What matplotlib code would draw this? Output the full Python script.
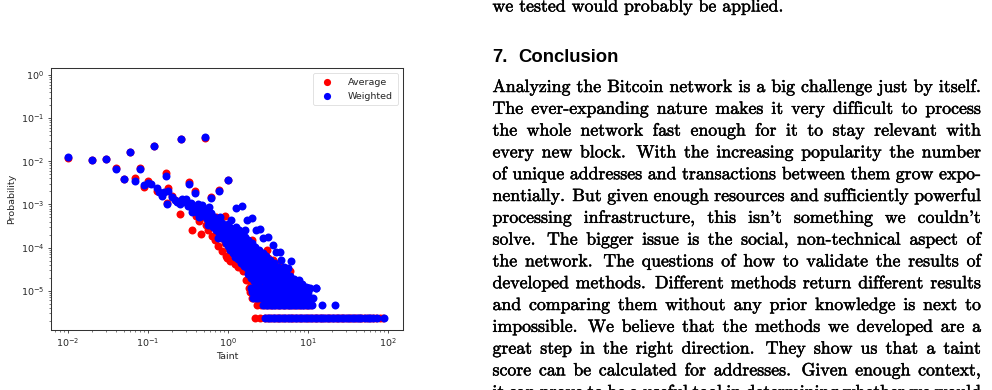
import matplotlib
matplotlib.use('Agg')
import matplotlib.pyplot as plt
import matplotlib.patheffects as pe
from matplotlib.font_manager import FontProperties

# ---------------- chart data ----------------
# Weighted (blue) individual points
wtd_taint = [0.01, 0.02, 0.03, 0.04, 0.05, 0.06, 0.07, 0.08, 0.09, 0.10, 0.11, 0.12, 0.13,
             0.15, 0.17, 0.175, 0.18, 0.20, 0.23, 0.26, 0.27, 0.29, 0.32, 0.33, 0.35, 0.39,
             0.43, 0.47, 0.52, 0.55, 0.59, 0.62, 0.78, 1.0,
             1.26, 1.52, 1.1, 1.74, 2.03, 1.64, 2.25, 2.52, 2.78, 3.2, 3.7, 3.96, 4.47, 4.6,
             6.25, 5.1, 5.7, 7.7, 10.1, 12.8,
             0.30, 0.32, 0.35, 0.38, 0.40, 0.42, 0.45, 0.47, 0.50, 0.52, 0.55, 0.55,
             0.58, 0.60, 0.62, 0.65, 0.66, 0.68, 0.70, 0.72, 0.74, 0.76, 0.78, 0.80, 0.82, 0.84, 0.86, 0.88,
             0.90, 0.92, 0.94, 0.96, 0.98, 1.0, 1.0, 1.02, 1.05, 1.07, 1.08, 1.1, 1.12, 1.14, 1.16, 1.18, 1.2,
             1.22, 1.24, 1.26, 1.28, 1.3, 1.32, 1.35, 1.38, 1.4, 1.42, 1.45, 1.48, 1.5, 1.52, 1.55, 1.58, 1.6,
             1.63, 1.66, 1.7, 1.72, 1.75, 1.78, 1.8, 1.83, 1.86, 1.9, 1.93, 1.96, 2.0, 2.03, 2.06, 2.1, 2.13, 2.16,
             2.22, 2.25, 2.3, 2.33, 2.36, 2.4, 2.46, 2.5, 2.55, 2.6, 2.63, 2.75, 2.8, 2.85, 2.9, 2.95,
             3.05, 3.1, 3.15, 3.2, 3.25, 3.4, 3.5, 3.55, 3.6, 3.8, 3.9, 4.0, 4.1, 4.3, 4.4, 4.5,
             4.8, 4.9, 5.0, 5.3, 5.5, 5.7, 6.0, 6.3, 6.8, 7.0, 7.6, 8.0, 8.5, 9.5,
             0.36, 0.41, 0.44, 0.48, 0.53, 0.57, 0.63, 0.69, 0.75, 0.83, 0.91, 0.99, 1.13, 1.33, 1.46,
             0.22, 0.25, 0.16, 0.14]
wtd_prob = [1.28e-2, 1.07e-2, 1.11e-2, 6.5e-3, 3.8e-3, 1.64e-2, 3.5e-3, 6.5e-3, 2.8e-3, 3.2e-3, 3.0e-3, 2.3e-2, 2.4e-3,
            1.6e-3, 4.6e-3, 1.05e-3, 2.1e-3, 1.5e-3, 1.16e-3, 3.2e-2, 1.3e-3, 1.15e-3, 1.0e-3, 2.9e-3, 8.9e-4, 1.8e-3,
            7.5e-4, 6.3e-4, 3.6e-2, 5.2e-4, 8.5e-4, 1.4e-3, 2.0e-3, 3.7e-3,
            8.1e-4, 9.3e-4, 4.3e-4, 4.4e-4, 4.8e-4, 2.6e-4, 2.6e-4, 2.7e-4, 1.65e-4, 1.74e-4, 1.15e-4, 8.1e-5, 8.1e-5, 5.2e-5,
            4.9e-5, 3.6e-5, 3.3e-5, 1.8e-5, 1.15e-5, 1.15e-5,
            1.3e-3, 9.0e-4, 1.1e-3, 8.0e-4, 6.5e-4, 1.0e-3, 7.0e-4, 5.5e-4, 8.0e-4, 6.0e-4, 4.5e-4, 7.0e-4,
            5.5e-4, 3.8e-4, 6.2e-4, 4.5e-4, 3.0e-4, 5.2e-4, 3.6e-4, 2.6e-4, 4.5e-4, 3.2e-4, 2.2e-4, 5.0e-4, 2.8e-4, 1.9e-4, 3.8e-4, 2.4e-4,
            1.6e-4, 3.2e-4, 2.1e-4, 1.3e-4, 2.7e-4, 1.8e-4, 1.1e-4, 3.5e-4, 2.3e-4, 1.5e-4, 9.0e-5, 2.9e-4, 1.9e-4, 1.2e-4, 7.5e-5, 2.4e-4, 1.55e-4,
            1.0e-4, 6.2e-5, 3.0e-4, 2.0e-4, 1.3e-4, 8.5e-5, 5.3e-5, 2.5e-4, 1.65e-4, 1.1e-4, 7.0e-5, 4.5e-5, 2.1e-4, 1.4e-4, 9.2e-5, 6.0e-5, 3.8e-5,
            1.8e-4, 1.2e-4, 8.0e-5, 5.2e-5, 3.3e-5, 2.4e-5, 1.5e-4, 1.0e-4, 6.8e-5, 4.5e-5, 2.9e-5, 2.0e-5, 1.3e-4, 8.8e-5, 5.8e-5, 3.9e-5, 2.6e-5, 1.7e-5,
            1.05e-4, 7.2e-5, 4.8e-5, 3.2e-5, 2.2e-5, 1.5e-5, 8.8e-5, 6.0e-5, 4.0e-5, 2.7e-5, 1.85e-5, 7.5e-5, 5.0e-5, 3.3e-5, 2.3e-5, 1.6e-5,
            6.3e-5, 4.2e-5, 2.8e-5, 2.0e-5, 1.4e-5, 5.2e-5, 3.5e-5, 2.4e-5, 1.7e-5, 4.3e-5, 2.9e-5, 2.0e-5, 1.4e-5, 3.6e-5, 2.5e-5, 1.75e-5,
            3.0e-5, 2.1e-5, 1.5e-5, 2.6e-5, 1.8e-5, 1.3e-5, 2.2e-5, 1.6e-5, 1.9e-5, 1.35e-5, 1.6e-5, 1.4e-5, 1.4e-5, 1.2e-5,
            6.8e-4, 8.8e-4, 5.2e-4, 9.5e-4, 7.4e-4, 3.4e-4, 4.0e-4, 2.9e-4, 1.7e-4, 3.4e-4, 2.6e-4, 1.4e-4, 1.0e-4, 6.5e-5, 5.6e-5,
            1.25e-3, 1.05e-3, 1.9e-3, 1.9e-3]

# Average (red) individual points
avg_taint = [0.01, 0.02, 0.03, 0.04, 0.05, 0.06, 0.07, 0.08, 0.09, 0.10, 0.12, 0.13, 0.15, 0.17, 0.175, 0.18,
             0.20, 0.23, 0.25, 0.26, 0.29, 0.33, 0.39, 0.43, 0.52, 0.62, 0.78, 1.0,
             0.36, 0.40, 0.44, 0.47, 0.50, 0.53, 0.57, 0.60, 0.63, 0.66, 0.70, 0.71, 0.73, 0.76, 0.78, 0.82, 0.85,
             0.88, 0.93, 0.92, 0.95, 0.97, 1.0, 1.04, 1.08, 1.12, 1.16, 1.2, 1.22, 1.26, 1.3, 1.35, 1.4, 1.42,
             1.45, 1.5, 1.55, 1.6, 1.65, 1.7, 1.72, 1.8, 1.85, 1.9, 1.95, 2.0, 2.05, 2.1, 2.3, 2.35, 2.45,
             2.6, 2.7, 3.1, 3.0, 3.2, 3.5, 3.7, 3.5, 4.2, 4.5, 5.0, 6.0, 6.2, 8.5, 3.2, 4.4]
avg_prob = [1.22e-2, 1.05e-2, 1.1e-2, 6.8e-3, 3.9e-3, 1.62e-2, 4.0e-3, 7.1e-3, 2.5e-3, 3.5e-3, 2.25e-2, 2.1e-3, 1.7e-3, 5.3e-3, 1.1e-3, 2.4e-3,
            1.6e-3, 1.2e-3, 6.0e-4, 3.3e-2, 1.2e-3, 3.3e-3, 2.1e-3, 8.0e-4, 3.5e-2, 1.5e-3, 2.2e-3, 3.6e-3,
            2.6e-4, 5.5e-4, 4.2e-4, 2.1e-4, 5.0e-4, 3.4e-4, 2.5e-4, 4.2e-4, 1.9e-4, 3.2e-4, 1.5e-4, 5.0e-4, 2.4e-4, 1.1e-4, 3.6e-4, 1.7e-4, 8.5e-5,
            2.6e-4, 5.4e-4, 1.25e-4, 6.5e-5, 5.7e-5, 2.0e-4, 9.5e-5, 5.0e-5, 1.5e-4, 7.2e-5, 2.6e-4, 4.2e-5, 1.1e-4, 5.5e-5, 3.5e-5, 2.3e-4, 3.6e-5,
            8.0e-5, 4.2e-5, 2.8e-5, 1.2e-4, 5.8e-5, 1.8e-5, 3.0e-5, 9.0e-5, 4.4e-5, 2.3e-5, 1.4e-5, 1.5e-4, 3.3e-5, 1.8e-5, 5.0e-5, 2.6e-5, 1.4e-5,
            3.6e-5, 2.0e-5, 8.7e-5, 2.8e-5, 1.6e-5, 4.3e-5, 5.2e-5, 2.1e-5, 2.5e-5, 1.6e-5, 2.1e-5, 2.8e-5, 1.4e-5, 1.3e-5, 5.6e-5, 4.5e-5]

# Low-count rows (probability of 1..5 addresses)
row_prob = [2.3e-6, 4.6e-6, 6.9e-6, 9.2e-6, 1.15e-5]
wtd_row_taint = [
    [2.95, 3.15, 3.4, 3.65, 3.9, 4.2, 4.5, 4.85, 5.2, 5.6, 6.0, 6.45, 6.9, 7.4, 8.0, 8.6, 9.2, 9.9, 10.6, 11.4,
     12.2, 13.1, 14.1, 15.1, 16.2, 17.4, 18.7, 20.1, 21.6, 23.2, 24.9, 26.7, 28.7, 30.8, 33.1, 35.5, 38.1, 41.0,
     44.0, 47.0, 52.0, 56.0, 60.0, 66.0, 74.0, 91.0],
    [2.8, 3.0, 3.2, 3.45, 3.7, 3.95, 4.25, 4.55, 4.9, 5.25, 5.6, 6.0, 6.45, 6.9, 7.4, 7.9, 8.5, 9.1, 9.8, 10.5,
     11.3, 15.0, 22.0],
    [2.1, 2.25, 2.4, 2.6, 2.8, 3.0, 3.2, 3.45, 3.7, 4.0, 4.3, 4.6, 4.95, 5.3, 5.7, 6.1, 6.6, 7.1, 7.6, 8.2, 8.8,
     9.5, 10.2, 11.0, 11.7],
    [2.0, 2.2, 2.4, 2.6, 2.85, 3.1, 3.35, 3.6, 3.9, 4.2, 4.55, 4.9, 5.3, 5.7, 6.2, 6.7, 7.2, 7.8, 8.5, 9.3, 10.2],
    [1.95, 2.15, 2.4, 2.65, 2.9, 3.2, 3.5, 3.8, 4.15, 4.5, 4.9, 5.3, 5.8, 6.3, 6.9, 7.6, 8.4, 9.3, 10.1, 10.6, 12.8],
]
avg_row_taint = [
    [2.2, 2.55, 2.9, 3.2, 3.5, 3.8, 4.1, 4.4, 4.8, 5.2, 5.6, 6.1, 6.6, 7.1, 7.7, 8.3, 9.0, 9.7, 10.5, 11.3, 12.2,
     13.2, 14.2, 15.3, 16.5, 17.8, 19.2, 20.7, 22.3, 24.0, 25.9, 27.9, 30.1, 32.4, 34.9, 37.6, 40.5, 43.6, 47.0,
     51.0, 55.0, 60.0, 65.0, 72.0, 80.0, 88.0],
    [2.35, 2.6, 2.85, 3.1, 3.35, 3.6, 3.9, 4.2, 4.5, 4.85, 5.2, 5.6, 6.0, 6.5, 7.0, 7.5, 8.1, 8.7, 9.4, 10.1, 10.9],
    [2.0, 2.15, 2.35, 2.55, 2.75, 3.0, 3.25, 3.5, 3.8, 4.1, 4.4, 4.8, 5.2, 5.6, 6.0, 6.5, 7.0, 7.6, 8.2, 8.9, 9.6, 10.4],
    [1.9, 2.1, 2.3, 2.55, 2.8, 3.05, 3.3, 3.6, 3.9, 4.25, 4.6, 5.0, 5.4, 5.9, 6.4, 7.0, 7.7, 8.4, 9.5],
    [1.85, 2.05, 2.3, 2.55, 2.8, 3.1, 3.4, 3.7, 4.05, 4.4, 4.8, 5.2, 5.7, 6.2, 6.8, 7.5, 8.3],
]

x_ticks = [1e-2, 1e-1, 1e0, 1e1, 1e2]
y_ticks = [1e-5, 1e-4, 1e-3, 1e-2, 1e-1, 1e0]

# ---------------- page text ----------------
prev_line = "we tested would probably be applied."
heading_num = "7."
heading_txt = "Conclusion"
para_lines = [
    "Analyzing the Bitcoin network is a big challenge just by itself.",
    "The ever-expanding nature makes it very difficult to process",
    "the whole network fast enough for it to stay relevant with",
    "every new block. With the increasing popularity the number",
    "of unique addresses and transactions between them grow expo-",
    "nentially. But given enough resources and sufficiently powerful",
    "processing infrastructure, this isn't something we couldn't",
    "solve. The bigger issue is the social, non-technical aspect of",
    "the network. The questions of how to validate the results of",
    "developed methods. Different methods return different results",
    "and comparing them without any prior knowledge is next to",
    "impossible. We believe that the methods we developed are a",
    "great step in the right direction. They show us that a taint",
    "score can be calculated for addresses. Given enough context,",
    "it can prove to be a useful tool in determining whether we would",
]

# ---------------- assemble series ----------------
wx = list(wtd_taint)
wy = list(wtd_prob)
for p, xs in zip(row_prob, wtd_row_taint):
    wx += xs
    wy += [p] * len(xs)
ax_ = list(avg_taint)
ay_ = list(avg_prob)
for p, xs in zip(row_prob, avg_row_taint):
    ax_ += xs
    ay_ += [p] * len(xs)

W, H = 992, 390
fig = plt.figure(figsize=(W / 100, H / 100), dpi=100)
fig.patch.set_facecolor('white')

L, R, T, B = 50.7, 403.0, 68.0, 330.0
ax = fig.add_axes([L / W, 1 - B / H, (R - L) / W, (B - T) / H])
ax.scatter(ax_, ay_, s=33, c='red', linewidths=0, label='Average', zorder=2)
ax.scatter(wx, wy, s=33, c='blue', linewidths=0, label='Weighted', zorder=3)
ax.set_xscale('log')
ax.set_yscale('log')
ax.set_xlim(10 ** -2.2125, 10 ** 2.191)
ax.set_ylim(10 ** -5.911, 10 ** 0.162)
ax.set_xticks(x_ticks)
ax.set_yticks(y_ticks)

fs = 6.8
tc = '#262626'
for s in ax.spines.values():
    s.set_linewidth(0.75)
    s.set_color('#333333')
ax.tick_params(which='major', length=2.4, width=0.6, labelsize=fs, pad=2.2,
               color='#333333', labelcolor=tc)
ax.tick_params(which='minor', length=1.4, width=0.45, color='#333333')
ax.set_xlabel('Taint', fontsize=fs, color=tc, labelpad=2.5)
ax.set_ylabel('Probability', fontsize=fs, color=tc, labelpad=3.0)
leg = ax.legend(loc='upper right', fontsize=fs, borderaxespad=0.55, handletextpad=1.2,
                borderpad=0.5, labelspacing=0.5, frameon=True, markerscale=0.9)
leg.get_frame().set_linewidth(0.5)
leg.get_frame().set_edgecolor('#cccccc')
for t in leg.get_texts():
    t.set_color(tc)

# ---------------- text column ----------------
body_fp = FontProperties(family='cmr10', size=12.8)
head_fp = FontProperties(family=['Liberation Sans', 'DejaVu Sans'], weight='bold', size=13.3)
renderer = fig.canvas.get_renderer()
thick = [pe.withStroke(linewidth=0.35, foreground='black')]


def tw(s, fp):
    return renderer.get_text_width_height_descent(s, fp, ismath=False)[0]


def put(x_px, y_px, s, fp, effects=None):
    t = fig.text(x_px / W, 1 - y_px / H, s, fontproperties=fp, ha='left', va='baseline', color='black')
    if effects:
        t.set_path_effects(effects)


X0, X1 = 492.5, 981.0
space_w = 0.333 * 12.8 * 100 / 72.0


def line(words, y_px, justify=True):
    widths = [tw(w, body_fp) for w in words]
    n = len(words)
    weights = [1.35 if words[i][-1] in '.' else 1.0 for i in range(n - 1)]
    if justify and n > 1:
        unit = (X1 - X0 - sum(widths)) / sum(weights)
        gaps = [unit * w for w in weights]
    else:
        gaps = [space_w * w for w in weights]
    x = X0
    for i, w in enumerate(words):
        put(x, y_px, w, body_fp, thick)
        if i < n - 1:
            x += widths[i] + gaps[i]


line(prev_line.split(), 11.5, justify=False)
put(X0, 61.7, heading_num, head_fp)
put(518.0, 61.7, heading_txt, head_fp)
base0, step = 92.0, 21.8
for i, ln in enumerate(para_lines):
    line(ln.split(), base0 + i * step, justify=True)

fig.savefig('out.png', dpi=100, facecolor='white')
